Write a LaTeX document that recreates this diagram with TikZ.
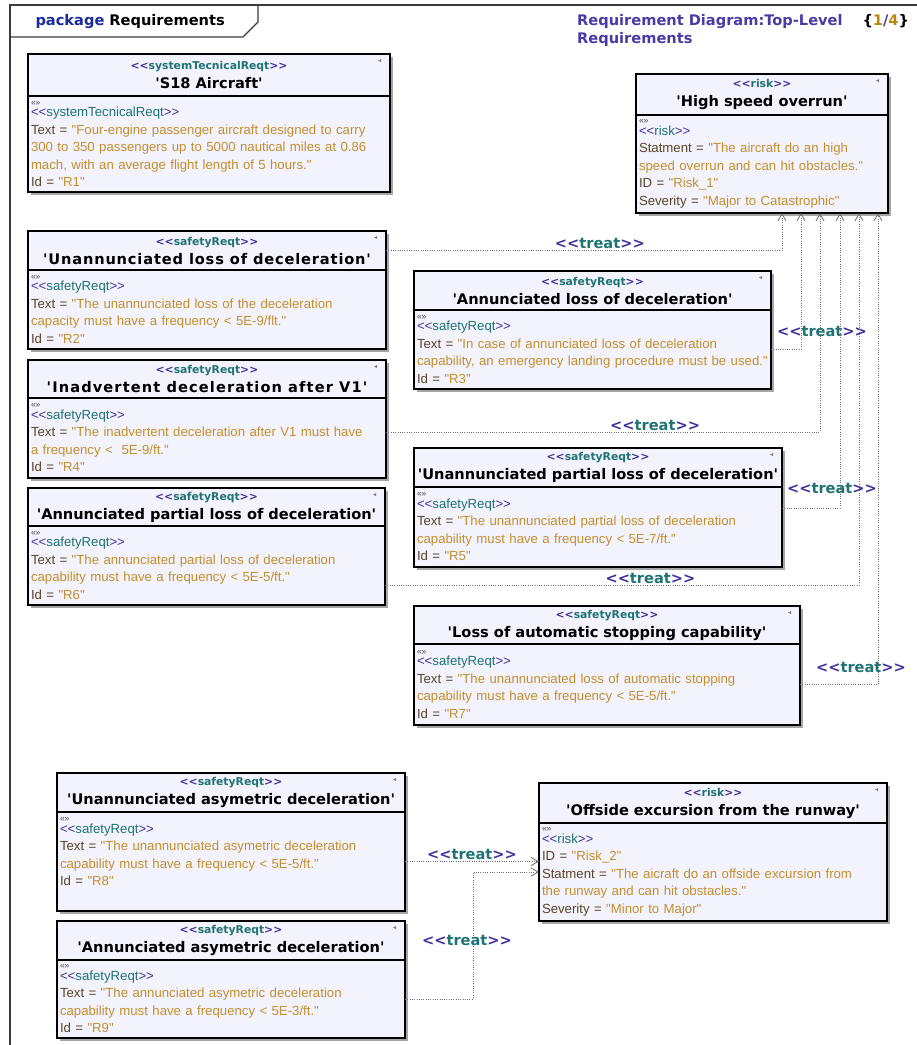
\documentclass[tikz,border=0pt]{standalone}
\usepackage{fontspec}
\usepackage{xcolor}
\usetikzlibrary{positioning, arrows.meta, shadows}

\newfontfamily\boldfam{DejaVu Sans}
\newfontfamily\bodyfam{Liberation Sans}

\definecolor{stind}{HTML}{3F2F9C}
\definecolor{stteal}{HTML}{1F7373}
\definecolor{attrnm}{HTML}{5A4526}
\definecolor{attrval}{HTML}{C38F2E}
\definecolor{boxfill}{HTML}{F3F3FD}
\definecolor{pkgblue}{HTML}{1B2A9C}
\definecolor{titind}{HTML}{4A3AA6}
\definecolor{pagegold}{HTML}{B8860B}
\definecolor{linkgray}{HTML}{6E6E6E}
\definecolor{framegray}{HTML}{3A3A3A}

\newcommand{\stereo}[1]{\textcolor{stind}{<<}\textcolor{stteal}{#1}\textcolor{stind}{>>}}
\newcommand{\hst}[1]{{\fontsize{10.8}{12}\selectfont\stereo{#1}}}
\newcommand{\guil}{{\fontsize{8.5}{8.5}\selectfont\textcolor{darkgray}{«»}}}
\newcommand{\attnm}[1]{\textcolor{attrnm}{#1 =}}
\newcommand{\attval}[1]{\textcolor{attrval}{#1}}

\begin{document}
\begin{tikzpicture}[
    x=1pt, y=-1pt,
    hdr/.style={draw, line width=1.5pt, fill=boxfill, anchor=north west, align=center, inner sep=2pt, outer sep=0pt,
        font=\boldfam\bfseries\fontsize{14.6}{19}\selectfont,
        drop shadow={shadow xshift=2.5pt, shadow yshift=-2.5pt, opacity=0.35, fill=black},
        path picture={\fill[gray] ([xshift=-9pt,yshift=-5pt]path picture bounding box.north east) -- ++(-3pt,-1.5pt) -- ++(3pt,-1.5pt) -- cycle;}},
    bdy/.style={draw, line width=1.5pt, fill=boxfill, align=left, inner xsep=3pt, inner ysep=2pt, outer sep=0pt,
        font=\bodyfam\fontsize{13.2}{17.5}\selectfont,
        drop shadow={shadow xshift=2.5pt, shadow yshift=-2.5pt, opacity=0.35, fill=black}},
    treat/.style={draw=linkgray, line width=0.8pt, dash pattern=on 1pt off 1.3pt, -{Straight Barb[length=7pt, width=8pt]}},
    treatlbl/.style={font=\boldfam\bfseries\fontsize{14.6}{17}\selectfont, inner sep=1pt},
    pkgframe/.style={draw=framegray, line width=1.2pt}
]
    \useasboundingbox (0,0) rectangle (917,1045);

    % --- Package frame ---
    \draw[pkgframe] (10,1045) -- (10,5) -- (917,5);
    \draw[pkgframe] (10,37) -- (243,37) -- (258,22) -- (258,5);
    \node[anchor=base west, font=\boldfam\bfseries\fontsize{14.6}{17}\selectfont] (pkg) at (32,25) {\textcolor{pkgblue}{package} Requirements};
    \node[anchor=north west, align=left, inner sep=0pt, text=titind, font=\boldfam\bfseries\fontsize{14.6}{18}\selectfont] (dgm) at (577,14)
        {Requirement Diagram:Top-Level\hspace{20pt}\textcolor{black}{\{}\textcolor{pagegold}{1}/\textcolor{pagegold}{4}\textcolor{black}{\}}\\Requirements};

    % --- Top level requirement ---
    \node[hdr, minimum width=362pt, minimum height=42pt] (s18h) at (28,54) {\hst{systemTecnicalReqt}\\'S18 Aircraft'};
    \node[bdy, below=0pt of s18h, text width=356pt, minimum height=96pt] (s18) {\guil\\[-6pt]
        \stereo{systemTecnicalReqt}\\
        \attnm{Text} \attval{"Four-engine passenger aircraft designed to carry\\300 to 350 passengers up to 5000 nautical miles at 0.86\\mach, with an average flight length of 5 hours."}\\
        \attnm{Id} \attval{"R1"}};

    % --- Risks ---
    \node[hdr, minimum width=252pt, minimum height=41pt] (hsoh) at (636,74) {\hst{risk}\\'High speed overrun'};
    \node[bdy, below=0pt of hsoh, text width=246pt, minimum height=98pt] (hso) {\guil\\[-6pt]
        \stereo{risk}\\
        \attnm{Statment} \attval{"The aircraft do an high\\speed overrun and can hit obstacles."}\\
        \attnm{ID} \attval{"Risk\_1"}\\
        \attnm{Severity} \attval{"Major to Catastrophic"}};

    \node[hdr, minimum width=348pt, minimum height=40pt] (rk2h) at (539,783) {\hst{risk}\\'Offside excursion from the runway'};
    \node[bdy, below=0pt of rk2h, text width=342pt, minimum height=98pt] (rk2) {\guil\\[-6pt]
        \stereo{risk}\\
        \attnm{ID} \attval{"Risk\_2"}\\
        \attnm{Statment} \attval{"The aicraft do an offside excursion from\\the runway and can hit obstacles."}\\
        \attnm{Severity} \attval{"Minor to Major"}};

    % --- Safety requirements, left column ---
    \node[hdr, minimum width=358pt, minimum height=39pt] (r2h) at (28,231) {\hst{safetyReqt}\\{\addfontfeature{LetterSpace=5.8}'Unannunciated loss of deceleration'}};
    \node[bdy, below=0pt of r2h, text width=352pt, minimum height=79pt] (r2) {\guil\\[-6pt]
        \stereo{safetyReqt}\\
        \attnm{Text} \attval{"The unannunciated loss of the deceleration\\capacity must have a frequency < 5E-9/flt."}\\
        \attnm{Id} \attval{"R2"}};

    \node[hdr, minimum width=358pt, minimum height=38pt] (r4h) at (28,360) {\hst{safetyReqt}\\{\addfontfeature{LetterSpace=7.6}'Inadvertent deceleration after V1'}};
    \node[bdy, below=0pt of r4h, text width=352pt, minimum height=80pt] (r4) {\guil\\[-6pt]
        \stereo{safetyReqt}\\
        \attnm{Text} \attval{"The inadvertent deceleration after V1 must have\\a frequency <\ \ 5E-9/ft."}\\
        \attnm{Id} \attval{"R4"}};

    \node[hdr, minimum width=357pt, minimum height=38pt] (r6h) at (28,488) {\hst{safetyReqt}\\'Annunciated partial loss of deceleration'};
    \node[bdy, below=0pt of r6h, text width=351pt, minimum height=79pt] (r6) {\guil\\[-6pt]
        \stereo{safetyReqt}\\
        \attnm{Text} \attval{"The annunciated partial loss of deceleration\\capability must have a frequency < 5E-5/ft."}\\
        \attnm{Id} \attval{"R6"}};

    % --- Safety requirements, right column ---
    \node[hdr, minimum width=357pt, minimum height=39pt] (r3h) at (414,271) {\hst{safetyReqt}\\'Annunciated loss of deceleration'};
    \node[bdy, below=0pt of r3h, text width=351pt, minimum height=79pt] (r3) {\guil\\[-6pt]
        \stereo{safetyReqt}\\
        \attnm{Text} \attval{"In case of annunciated loss of deceleration\\capability, an emergency landing procedure must be used."}\\
        \attnm{Id} \attval{"R3"}};

    \node[hdr, minimum width=368pt, minimum height=39pt] (r5h) at (414,448) {\hst{safetyReqt}\\'Unannunciated partial loss of deceleration'};
    \node[bdy, below=0pt of r5h, text width=362pt, minimum height=80pt] (r5) {\guil\\[-6pt]
        \stereo{safetyReqt}\\
        \attnm{Text} \attval{"The unannunciated partial loss of deceleration\\capability must have a frequency < 5E-7/ft."}\\
        \attnm{Id} \attval{"R5"}};

    \node[hdr, minimum width=386pt, minimum height=38pt] (r7h) at (414,606) {\hst{safetyReqt}\\'Loss of automatic stopping capability'};
    \node[bdy, below=0pt of r7h, text width=380pt, minimum height=81pt] (r7) {\guil\\[-6pt]
        \stereo{safetyReqt}\\
        \attnm{Text} \attval{"The unannunciated loss of automatic stopping\\capability must have a frequency < 5E-5/ft."}\\
        \attnm{Id} \attval{"R7"}};

    % --- Asymetric deceleration ---
    \node[hdr, minimum width=348pt, minimum height=39pt] (r8h) at (57,773) {\hst{safetyReqt}\\'Unannunciated asymetric deceleration'};
    \node[bdy, below=0pt of r8h, text width=342pt, minimum height=99pt] (r8) {\guil\\[-6pt]
        \stereo{safetyReqt}\\
        \attnm{Text} \attval{"The unannunciated asymetric deceleration\\capability must have a frequency < 5E-5/ft."}\\
        \attnm{Id} \attval{"R8"}\\[2pt]\mbox{}};

    \node[hdr, minimum width=348pt, minimum height=39pt] (r9h) at (57,921) {\hst{safetyReqt}\\'Annunciated asymetric deceleration'};
    \node[bdy, below=0pt of r9h, text width=342pt, minimum height=78pt] (r9) {\guil\\[-6pt]
        \stereo{safetyReqt}\\
        \attnm{Text} \attval{"The annunciated asymetric deceleration\\capability must have a frequency < 5E-3/ft."}\\
        \attnm{Id} \attval{"R9"}};

    % --- treat links to high speed overrun ---
    \draw[treat] (r2h.east) -| ([xshift=-106pt]hso.south east) node[treatlbl, above, pos=0.27] {\stereo{treat}};
    \draw[treat] (r3.east) -| ([xshift=-87pt]hso.south east) node[treatlbl, pos=0.5, xshift=21pt, yshift=18pt] {\stereo{treat}};
    \draw[treat] ([yshift=6pt]r4.east) -| ([xshift=-68pt]hso.south east) node[treatlbl, above, pos=0.31] {\stereo{treat}};
    \draw[treat] ([yshift=19pt]r5.east) -| ([xshift=-48pt]hso.south east) node[treatlbl, pos=0.5, xshift=-8pt, yshift=20pt] {\stereo{treat}};
    \draw[treat] ([yshift=-20pt]r6.east) -| ([xshift=-29pt]hso.south east) node[treatlbl, above, pos=0.28] {\stereo{treat}};
    \draw[treat] (r7.east) -| ([xshift=-10pt]hso.south east) node[treatlbl, pos=0.5, xshift=-17pt, yshift=17pt] {\stereo{treat}};

    % --- treat links to offside excursion ---
    \draw[treat] (r8.east) -- (r8.east -| rk2.west) node[treatlbl, above, midway] {\stereo{treat}};
    \draw[treat] (r9.east) -| ([xshift=-66pt]rk2.west) node[treatlbl, pos=0.73, xshift=-6pt] {\stereo{treat}} -- (rk2.west);

\end{tikzpicture}
\end{document}
